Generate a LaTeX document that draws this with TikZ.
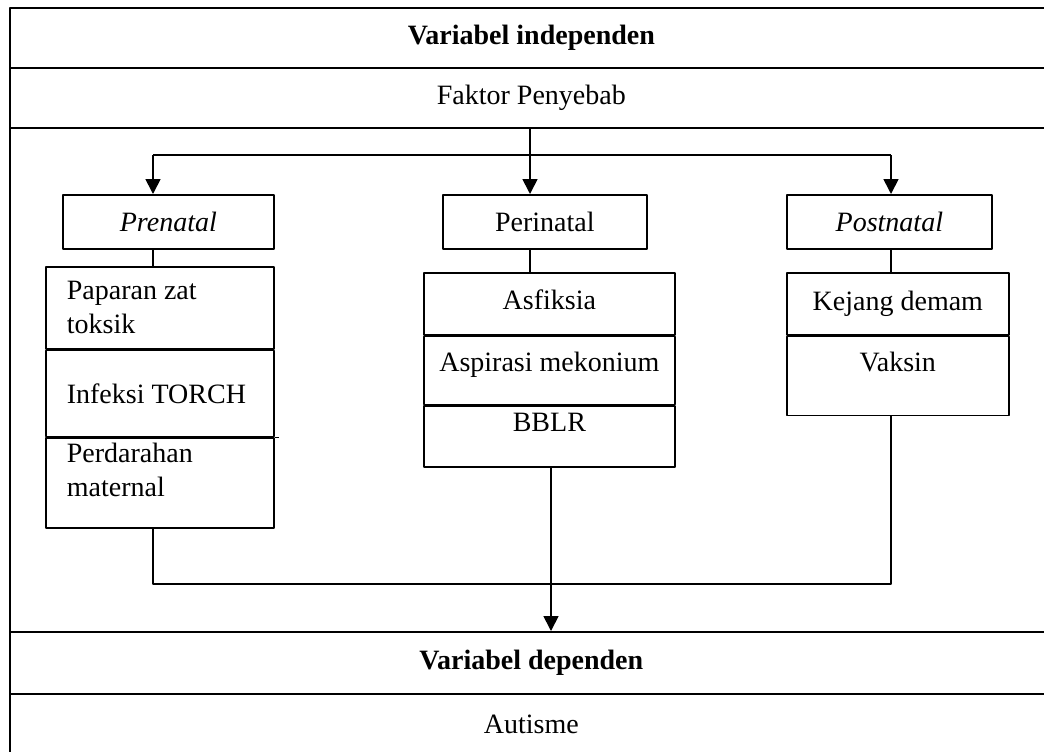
\documentclass[tikz,border=0pt]{standalone}
\usepackage{fontspec}
\setmainfont{Liberation Serif}
\usetikzlibrary{arrows.meta}
\def\txt{\fontsize{14}{17}\selectfont}
\tikzset{
  row/.style={draw, anchor=north west, minimum width=521.5pt, inner sep=0pt, font=\txt},
  headbox/.style={draw, anchor=north west, minimum height=27pt, inner sep=0pt, font=\txt},
  cellbox/.style={draw, anchor=north west, inner sep=0pt, align=center, font=\txt},
  leftcell/.style={draw, anchor=north west, inner xsep=10.5pt, inner ysep=0pt, text width=93pt, align=flush left, font=\txt}
}
\begin{document}
\begin{tikzpicture}[x=0.5pt,y=-0.5pt,line width=0.85pt,line join=round,>={Triangle[length=7.5pt,width=7.5pt]}]
\useasboundingbox (0,0) rectangle (1044,751);
\clip (0,0) rectangle (1044,751);
% table rows
\node[row, minimum height=30pt, font=\txt\bfseries] (indep) at (9,7) {Variabel independen};
\node[row, minimum height=30pt] (faktor) at (9,67) {Faktor Penyebab};
\node[row, minimum height=252pt] (body) at (9,127) {};
\node[row, minimum height=31pt, font=\txt\bfseries] (dep) at (9,631) {Variabel dependen};
\node[row, minimum height=31pt] (autis) at (9,693) {Autisme};
% factor boxes
\node[headbox, minimum width=105.5pt, font=\txt\itshape] (pre) at (62,194) {Prenatal};
\node[headbox, minimum width=102pt] (peri) at (442,194) {Perinatal};
\node[headbox, minimum width=102.5pt, font=\txt\itshape] (post) at (786,194) {Postnatal};
% prenatal cells
\node[leftcell, minimum height=41pt] (pre1) at (45,266) {Paparan zat\\toksik};
\node[leftcell, minimum height=43pt] (pre2) at (pre1.south west) {Infeksi TORCH};
\node[leftcell, minimum height=45pt] (pre3) at (pre2.south west) {Perdarahan\\maternal\\[-4pt]\mbox{}};
% perinatal cells
\node[cellbox, minimum width=125.5pt, minimum height=31pt, text depth=4pt] (peri1) at (423,272) {Asfiksia};
\node[cellbox, minimum width=125.5pt, minimum height=34pt, text depth=9pt] (peri2) at (peri1.south west) {Aspirasi mekonium};
\node[cellbox, minimum width=125.5pt, minimum height=30.5pt, text depth=14pt] (peri3) at (peri2.south west) {BBLR};
% postnatal cells
\node[cellbox, minimum width=111pt, minimum height=31pt] (post1) at (786,272) {Kejang demam};
\node[cellbox, minimum width=111pt, minimum height=39.5pt, text depth=14pt] (post2) at (post1.south west) {Vaksin};
\draw (pre3.north east) -- ++(4,0);
% connectors
\coordinate (lt) at (153,155);
\coordinate (mt) at (530,155);
\coordinate (rt) at (891,155);
\coordinate (lb) at (153,584);
\coordinate (mb) at (551,584);
\coordinate (rb) at (891,584);
\draw (lt) -- (rt);
\draw[->] (lt) -- (lt |- pre.north);
\draw[->] (rt) -- (rt |- post.north);
\draw[->] (faktor.south -| mt) -- (mt |- peri.north);
\draw (lt |- pre.south) -- (lt |- pre1.north);
\draw (mt |- peri.south) -- (mt |- peri1.north);
\draw (rt |- post.south) -- (rt |- post1.north);
\draw (lb |- pre3.south) -- (lb) -- (rb) -- (rb |- post2.south);
\draw[->] (mb |- peri3.south) -- (mb |- dep.north);
\end{tikzpicture}
\end{document}
